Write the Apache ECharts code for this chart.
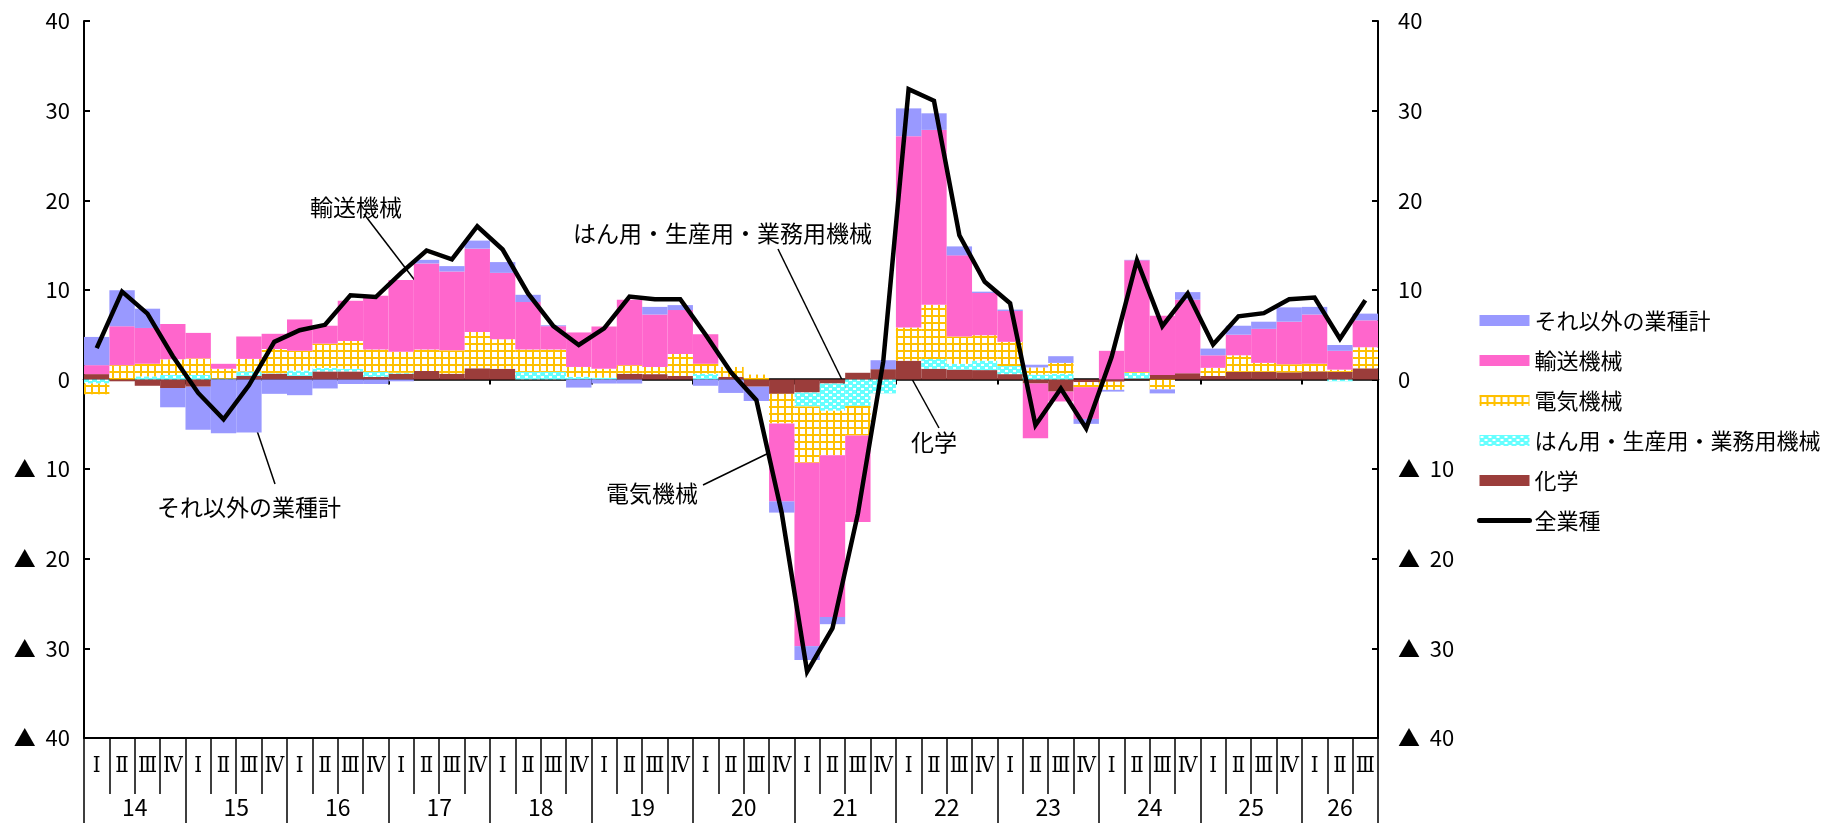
<!DOCTYPE html>
<html>
<head>
<meta charset="utf-8">
<script src="https://cdn.jsdelivr.net/npm/echarts@6.0.0/dist/echarts.min.js"></script>
<style>
  html, body { margin: 0; padding: 0; background: #fff; }
  #ChartDom { width: 1827px; height: 823px; }
</style>
</head>
<body>
<div id="ChartDom"></div>
<script>
// 年・四半期
const years = ["14", "15", "16", "17", "18", "19", "20", "21", "22", "23", "24", "25", "26"]
const quarterNames = ["Ⅰ", "Ⅱ", "Ⅲ", "Ⅳ"]
const lastYearQuarters = 3

// 寄与度（％ポイント）
const chemical = [
  0.6, -0.2, -0.7, -0.95,
  -0.8, 0, 0.4, 0.65,
  0.4, 0.9, 0.9, 0.3,
  0.65, 0.95, 0.65, 1.25,
  1.2, 0, 0, 0,
  0, 0.65, 0.6, 0.4,
  0, 0.3, -0.8, -1.6,
  -1.45, -0.45, 0.75, 1.15,
  2.1, 1.2, 1.1, 1.05,
  0.6, -0.45, -1.35, -0.3,
  -0.25, 0.1, 0.5, 0.7,
  0.4, 0.85, 0.85, 0.8,
  0.9, 0.85, 1.25,
]
const generalMachinery = [
  -0.45, 0, 0.35, 0.5,
  0.5, 0.1, 0.5, 0.05,
  0.6, 0.4, 0.3, 0.55,
  0.1, 0, 0, 0,
  0, 0.85, 0.85, 0.3,
  0.2, 0, 0, 0,
  0.65, 0, 0, 0,
  -1.55, -3.05, -2.95, -1.55,
  0, 1.1, 0.65, 1.05,
  0.9, 0.55, 0.65, 0,
  0, 0.65, 0, 0,
  0, 0, 0, 0,
  0, -0.2, 0,
]
const electrical = [
  -1.2, 1.6, 1.4, 1.75,
  1.85, 1.1, 1.4, 2.7,
  2.2, 2.7, 3.1, 2.5,
  2.35, 2.4, 2.6, 4.05,
  3.3, 2.5, 2.5, 1.1,
  1.0, 0.95, 0.8, 2.45,
  1.1, 1.1, 0.55, -3.3,
  -6.3, -4.95, -3.3, 0,
  3.7, 6.05, 3.05, 2.85,
  2.7, 0.8, 1.2, -0.55,
  -0.9, 0.1, -1.1, 0,
  0.9, 1.85, 1.0, 0.9,
  0.85, 0.25, 2.35,
]
const transport = [
  1.0, 4.35, 4.0, 3.95,
  2.85, 0.55, 2.5, 1.7,
  3.5, 2.0, 4.5, 6.0,
  8.0, 9.6, 8.8, 9.3,
  7.4, 5.3, 2.6, 3.85,
  4.7, 7.3, 5.85, 4.9,
  3.3, 0, 0, -8.7,
  -20.45, -18.05, -9.65, 0,
  21.35, 19.5, 9.05, 4.7,
  3.45, -6.1, -1.1, -3.55,
  3.2, 12.45, 6.6, 8.2,
  1.4, 2.3, 3.8, 4.75,
  5.5, 2.1, 3.0,
]
const others = [
  3.15, 4.0, 2.15, -2.15,
  -4.8, -6.0, -5.9, -1.6,
  -1.75, -1.0, -0.5, -0.5,
  -0.2, 0.4, 0.6, 0.9,
  1.2, 0.8, 0.1, -0.9,
  -0.45, -0.45, 0.85, 0.55,
  -0.7, -1.5, -1.6, -1.25,
  -1.55, -0.8, 0, 1.0,
  3.1, 1.85, 1.0, 0.15,
  0.15, 0.3, 0.75, -0.55,
  -0.2, 0.05, -0.45, 0.85,
  0.75, 1.0, 0.8, 1.6,
  0.85, 0.65, 0.75,
]
const allIndustries = [
  3.5, 9.8, 7.35, 2.6,
  -1.5, -4.45, -0.65, 4.2,
  5.5, 6.1, 9.4, 9.2,
  11.9, 14.4, 13.4, 17.1,
  14.5, 9.6, 5.95, 3.85,
  5.7, 9.25, 8.95, 8.95,
  5.0, 0.8, -2.3, -14.9,
  -32.6, -27.75, -15.0, 2.0,
  32.4, 31.1, 16.1, 10.9,
  8.5, -5.1, -1.0, -5.45,
  2.5, 13.3, 5.95, 9.6,
  3.9, 7.05, 7.4, 8.95,
  9.15, 4.55, 8.85,
]
const yTicks = [-40, -30, -20, -10, 0, 10, 20, 30, 40]

// 四半期ラベルと年ラベル（半四半期刻み）を組み立てる
const quarterLabels = []
years.forEach((y, i) => {
  const n = i === years.length - 1 ? lastYearQuarters : 4
  for (let q = 0; q < n; q++) quarterLabels.push(quarterNames[q])
})
const nQ = quarterLabels.length
const yearSlots = new Array(nQ * 2 + 1).fill("")
const yearBounds = new Set()
let pos = 0
years.forEach((y, i) => {
  const n = i === years.length - 1 ? lastYearQuarters : 4
  yearBounds.add(pos * 2)
  yearSlots[pos * 2 + n] = y
  pos += n
})
yearBounds.add(pos * 2)

function gridPattern() {
  const c = document.createElement("canvas")
  c.width = 7
  c.height = 7
  const ctx = c.getContext("2d")
  ctx.fillStyle = "#ffffff"
  ctx.fillRect(0, 0, 7, 7)
  ctx.fillStyle = "#ffc000"
  ctx.fillRect(0, 0, 7, 2)
  ctx.fillRect(0, 0, 2, 7)
  return c
}
function dotPattern() {
  const c = document.createElement("canvas")
  c.width = 8
  c.height = 6
  const ctx = c.getContext("2d")
  ctx.fillStyle = "#66ffff"
  ctx.fillRect(0, 0, 8, 6)
  ctx.fillStyle = "#ffffff"
  ctx.fillRect(1, 1, 3, 2)
  ctx.fillRect(5, 4, 3, 2)
  return c
}

const jpFont = "Noto Sans CJK JP"
const numFont = "'Liberation Sans Narrow', 'Noto Sans CJK JP'"
const romanFont = "'DejaVu Serif Condensed', 'DejaVu Serif', 'Noto Sans CJK JP'"
const gridRect = { left: 84, right: 449, top: 21, bottom: 85 }

function fmtY(v) {
  return v < 0 ? "▲  " + -v : String(v)
}

const chartDom = document.getElementById("ChartDom")
const myChart = echarts.init(chartDom)

function barSeries(name, data, color) {
  return {
    name: name,
    type: "bar",
    stack: "total",
    barCategoryGap: "0%",
    itemStyle: { color: color },
    data: data,
  }
}

function annotation(text, tx, ty, x1, y1, x2, y2) {
  return [
    {
      type: "text",
      x: tx,
      y: ty,
      style: { text: text, fill: "#000", font: '23px "Noto Sans CJK JP"', verticalAlign: "middle" },
    },
    {
      type: "line",
      shape: { x1: x1, y1: y1, x2: x2, y2: y2 },
      style: { stroke: "#000", lineWidth: 1.5 },
    },
  ]
}

let option = {
  animation: false,
  backgroundColor: "#fff",
  textStyle: { fontFamily: jpFont },
  grid: [gridRect, gridRect, gridRect],
  legend: {
    orient: "vertical",
    left: 1472,
    top: 303,
    itemWidth: 50,
    itemHeight: 11,
    itemGap: 15,
    textStyle: { fontFamily: jpFont, fontSize: 22, color: "#000", lineHeight: 25 },
    data: [
      { name: "それ以外の業種計", icon: "rect" },
      { name: "輸送機械", icon: "rect" },
      { name: "電気機械", icon: "rect" },
      { name: "はん用・生産用・業務用機械", icon: "rect" },
      { name: "化学", icon: "rect" },
      {
        name: "全業種",
        itemStyle: { opacity: 0 },
        lineStyle: { width: 5, color: "#000", cap: "round" },
      },
    ],
  },
  xAxis: [
    {
      gridIndex: 0,
      type: "category",
      data: quarterLabels,
      axisLine: { onZero: true, lineStyle: { color: "#000", width: 2.5 } },
      axisTick: { show: true, interval: 3, length: 5, lineStyle: { color: "#000", width: 2 } },
      axisLabel: { show: false },
      splitLine: { show: false },
    },
    {
      gridIndex: 1,
      type: "category",
      position: "bottom",
      data: quarterLabels,
      axisLine: { onZero: false, lineStyle: { color: "#000", width: 2 } },
      axisTick: { show: true, interval: 0, length: 56, lineStyle: { color: "#000", width: 1.5 } },
      axisLabel: { interval: 0, margin: 17, fontSize: 22, color: "#000", fontFamily: romanFont },
      splitLine: { show: false },
    },
    {
      gridIndex: 2,
      type: "category",
      position: "bottom",
      boundaryGap: false,
      data: yearSlots,
      axisLine: { show: false, onZero: false },
      axisTick: {
        show: true,
        interval: (idx) => yearBounds.has(idx),
        length: 85,
        lineStyle: { color: "#000", width: 1.5 },
      },
      axisLabel: {
        interval: (idx, val) => val !== "",
        margin: 58,
        fontSize: 23,
        color: "#000",
        fontFamily: numFont,
      },
      splitLine: { show: false },
    },
  ],
  yAxis: [
    {
      gridIndex: 0,
      type: "value",
      position: "left",
      min: yTicks[0],
      max: yTicks[yTicks.length - 1],
      interval: 10,
      axisLine: { show: true, lineStyle: { color: "#000", width: 2 } },
      axisTick: { show: true, inside: true, length: 6, lineStyle: { color: "#000", width: 2 } },
      axisLabel: { margin: 14, fontSize: 22, color: "#000", fontFamily: numFont, formatter: fmtY },
      splitLine: { show: false },
    },
    {
      gridIndex: 0,
      type: "value",
      position: "right",
      min: yTicks[0],
      max: yTicks[yTicks.length - 1],
      interval: 10,
      axisLine: { show: true, lineStyle: { color: "#000", width: 2 } },
      axisTick: { show: true, inside: true, length: 6, lineStyle: { color: "#000", width: 2 } },
      axisLabel: { margin: 20, fontSize: 22, color: "#000", fontFamily: numFont, formatter: fmtY },
      splitLine: { show: false },
    },
    { gridIndex: 1, type: "value", show: false, min: 0, max: 1 },
    { gridIndex: 2, type: "value", show: false, min: 0, max: 1 },
  ],
  series: [
    barSeries("化学", chemical, "#9b3d3b"),
    barSeries("はん用・生産用・業務用機械", generalMachinery, { image: dotPattern(), repeat: "repeat" }),
    barSeries("電気機械", electrical, { image: gridPattern(), repeat: "repeat" }),
    barSeries("輸送機械", transport, "#ff66cc"),
    barSeries("それ以外の業種計", others, "#9999ff"),
    {
      name: "全業種",
      type: "line",
      data: allIndustries,
      symbol: "none",
      itemStyle: { color: "#000" },
      lineStyle: { color: "#000", width: 4.5, join: "miter" },
      z: 5,
    },
  ],
  graphic: [].concat(
    annotation("輸送機械", 310, 207, 364, 214, 436, 308),
    annotation("それ以外の業種計", 157, 507, 247, 401, 275, 484),
    annotation("はん用・生産用・業務用機械", 573, 233, 778, 249, 847, 390),
    annotation("化学", 911, 442, 907, 370, 939, 428),
    annotation("電気機械", 606, 493, 703, 485, 814, 431)
  ),
}

myChart.setOption(option)
window.addEventListener("resize", () => {
  myChart.resize()
})
</script>
</body>
</html>
